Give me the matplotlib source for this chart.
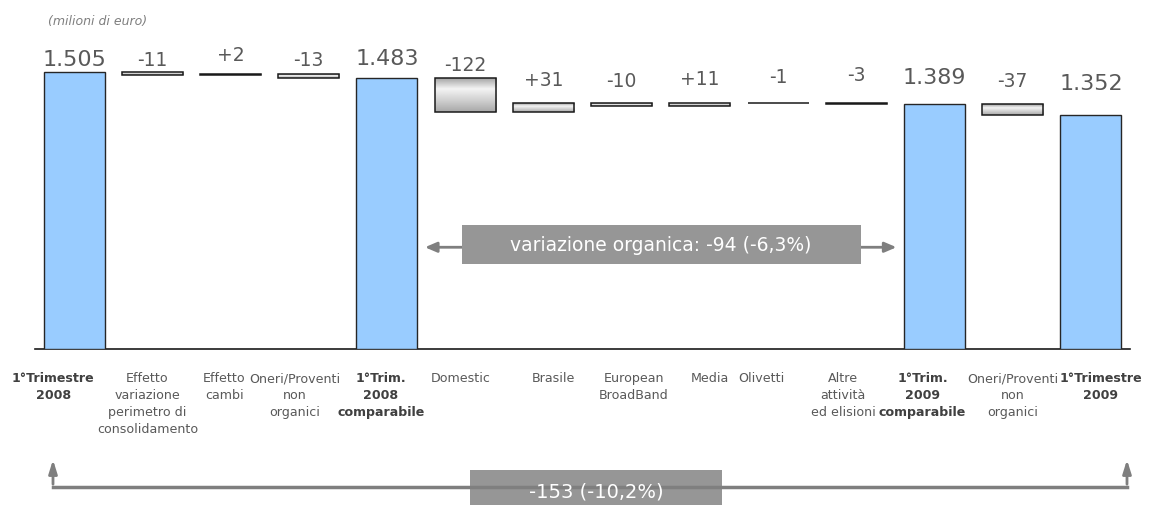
import matplotlib
matplotlib.use("Agg")
import matplotlib.pyplot as plt
import numpy as np
from matplotlib.patches import Rectangle, FancyArrowPatch
from matplotlib.colors import LinearSegmentedColormap

# ricavi primo trimestre, milioni di euro
categories = [
    "1°Trimestre\n2008",
    "Effetto\nvariazione\nperimetro di\nconsolidamento",
    "Effetto\ncambi",
    "Oneri/Proventi\nnon\norganici",
    "1°Trim.\n2008\ncomparabile",
    "Domestic",
    "Brasile",
    "European\nBroadBand",
    "Media",
    "Olivetti",
    "Altre\nattività\ned elisioni",
    "1°Trim.\n2009\ncomparabile",
    "Oneri/Proventi\nnon\norganici",
    "1°Trimestre\n2009",
]
values = [1505, -11, 2, -13, 1483, -122, 31, -10, 11, -1, -3, 1389, -37, 1352]
is_total = [True, False, False, False, True, False, False, False, False, False, False, True, False, True]
value_labels = ["1.505", "-11", "+2", "-13", "1.483", "-122", "+31", "-10", "+11", "-1", "-3",
                "1.389", "-37", "1.352"]
organic_text = "variazione organica: -94 (-6,3%)"
total_text = "-153 (-10,2%)"

# label offsets (pixels) above each bar and horizontal nudges of category labels
label_pad = [7, 7, 14, 9, 14, 8, 18, 17, 19, 21, 23, 21, 18, 26]
cat_shift = [-21, -5, -6, -14, -6, -4, 10, 12, 10, -17, -13, -12, 0, 10]

GREY_TXT = "#595959"
BLUE = "#99CCFF"

fig = plt.figure(figsize=(11.52, 5.06), dpi=100)
W, H = 1152, 506
ax = fig.add_axes([35 / W, (H - 350) / H, (1130 - 35) / W, 310 / H])

y0 = 518
x = np.arange(len(values))
bw = 0.78

grad = LinearSegmentedColormap.from_list("g", ["#9e9e9e", "#f4f4f4", "#d0d0d0", "#a8a8a8"])
grad_img = np.linspace(0, 1, 100).reshape(-1, 1)

running = 0
tops = []
for i, v in enumerate(values):
    if is_total[i]:
        ax.bar(x[i], v - y0, bottom=y0, width=bw, color=BLUE, edgecolor="#262626",
               linewidth=1, zorder=3)
        running = v
        tops.append(v)
    else:
        lo, hi = sorted([running, running + v])
        rect = Rectangle((x[i] - bw / 2, lo), bw, hi - lo, facecolor="none",
                         edgecolor="#1a1a1a", linewidth=1.1, zorder=4)
        ax.add_patch(rect)
        im = ax.imshow(grad_img, cmap=grad, aspect="auto", zorder=3,
                       extent=(x[i] - bw / 2, x[i] + bw / 2, lo, hi), origin="upper")
        im.set_clip_path(rect)
        running += v
        tops.append(hi)

for i, lab in enumerate(value_labels):
    big = is_total[i]
    ax.annotate(lab, xy=(x[i], tops[i]), xytext=(0, label_pad[i]), textcoords="offset pixels",
                ha="center", va="baseline", color=GREY_TXT,
                fontsize=16 if big else 13.5)

for i, cat in enumerate(categories):
    ax.annotate(cat, xy=(x[i], 0), xycoords=("data", "axes fraction"),
                xytext=(cat_shift[i], -22), textcoords="offset pixels",
                ha="center", va="top", fontsize=9.1, linespacing=1.4,
                color="#404040" if is_total[i] else GREY_TXT,
                fontweight="bold" if is_total[i] else "normal")

ax.set_xlim(-0.5, 13.5)
ax.set_ylim(y0, 1621)
for s in ["top", "left", "right"]:
    ax.spines[s].set_visible(False)
ax.spines["bottom"].set_linewidth(1.2)
ax.spines["bottom"].set_color("#1a1a1a")
ax.set_xticks([])
ax.set_yticks([])

# organic variation band between the two comparable totals
arrow_c = "#7f7f7f"
ya = 880
for xe in (4.45, 10.55):
    ax.add_patch(FancyArrowPatch((7.5, ya), (xe, ya), arrowstyle="-|>,head_length=7,head_width=3",
                                 color=arrow_c, linewidth=2, mutation_scale=1, zorder=2))
ax.add_patch(Rectangle((4.96, 820), 10.06 - 4.96, 959 - 820, facecolor="#969696",
                       edgecolor="none", zorder=5))
ax.text(7.5, 889, organic_text, ha="center", va="center", color="white", fontsize=13.5, zorder=6)

fig.text(48 / W, 1 - 25 / H, "(milioni di euro)", style="italic", color="#7f7f7f",
         fontsize=9, va="baseline")

# overall variation bracket under the labels
yb = H - 488
fig.add_artist(plt.Line2D([53 / W, 1127 / W], [yb / H, yb / H], color=arrow_c, linewidth=2.5))
for xp in (53, 1127):
    fig.add_artist(FancyArrowPatch((xp, yb), (xp, H - 458), transform=None,
                                   arrowstyle="-|>,head_length=8,head_width=2.5",
                                   color=arrow_c, linewidth=2, mutation_scale=1))
fig.add_artist(Rectangle((470 / W, 0), (722 - 470) / W, 35 / H, transform=fig.transFigure,
                         facecolor="#969696", edgecolor="none"))
fig.text(596 / W, 14 / H, total_text, ha="center", va="center", color="white", fontsize=14)

fig.savefig("out.png", dpi=100)
